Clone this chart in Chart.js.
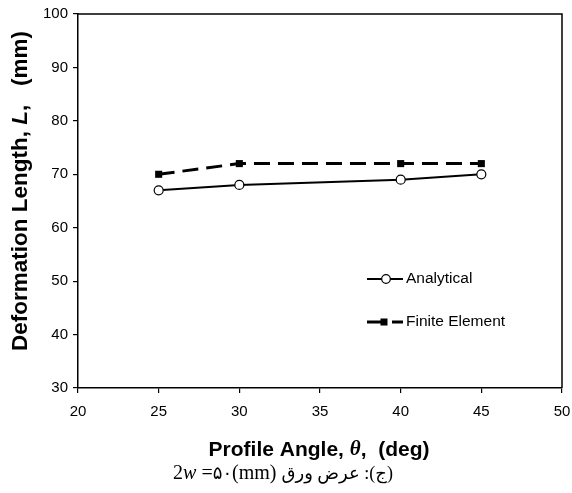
<!DOCTYPE html>
<html>
<head>
<meta charset="utf-8">
<script src="https://cdn.jsdelivr.net/npm/chart.js@4"></script>
<style>
  html, body { margin: 0; padding: 0; background: #fff; }
  #wrap { width: 572px; height: 493px; position: relative; }
</style>
</head>
<body>
<div id="wrap"><canvas id="chart"></canvas></div>
<script>
// Data
const angles = [25, 30, 40, 45];
const analytical = [67, 68, 69, 70];
const finiteElement = [70, 72, 72, 72];
const xTicks = [20, 25, 30, 35, 40, 45, 50];
const yTicks = [30, 40, 50, 60, 70, 80, 90, 100];

const sansFont = "'Liberation Sans', Arial, sans-serif";
const serifFont = "'Liberation Serif', 'Times New Roman', 'DejaVu Sans', serif";

// draw a run of text pieces with different fonts, centred on cx
function drawPieces(ctx, pieces, cx, cy) {
  let total = 0;
  pieces.forEach((p) => {
    ctx.font = p.font;
    total += ctx.measureText(p.text).width;
  });
  let x = cx - total / 2;
  ctx.textBaseline = "middle";
  pieces.forEach((p) => {
    ctx.font = p.font;
    const w = ctx.measureText(p.text).width;
    if (p.rtl) {
      ctx.direction = "rtl";
      ctx.textAlign = "right";
      ctx.fillText(p.text, x + w, cy);
      ctx.direction = "ltr";
    } else {
      ctx.textAlign = "left";
      ctx.fillText(p.text, x, cy);
    }
    x += w;
  });
}

/*  -----------------------------------------------------------------------------------------------
  Plugin: frame, titles, legend and caption
--------------------------------------------------------------------------------------------------- */
const decorations = {
  id: "decorations",
  afterDraw(chart) {
    const ctx = chart.ctx;
    const area = chart.chartArea;
    ctx.save();
    ctx.fillStyle = "#000";

    // top and right border of the plot box
    ctx.strokeStyle = "#000";
    ctx.lineWidth = 1.5;
    ctx.beginPath();
    ctx.moveTo(area.left, area.top);
    ctx.lineTo(area.right, area.top);
    ctx.lineTo(area.right, area.bottom);
    ctx.stroke();

    // y axis title (rotated)
    ctx.save();
    ctx.translate(21, 191);
    ctx.rotate(-Math.PI / 2);
    drawPieces(ctx, [
      { text: "Deformation Length, ", font: "bold 22.5px " + sansFont },
      { text: "L", font: "italic bold 22.5px " + sansFont },
      { text: ",   (mm)", font: "bold 22.5px " + sansFont },
    ], 0, 0);
    ctx.restore();

    // x axis title
    drawPieces(ctx, [
      { text: "Profile Angle, ", font: "bold 21px " + sansFont },
      { text: "\u03B8", font: "italic bold 21px " + serifFont },
      { text: ",  (deg)", font: "bold 21px " + sansFont },
    ], 319, 450);

    // caption under the chart
    drawPieces(ctx, [
      { text: "2", font: "20px " + serifFont },
      { text: "w", font: "italic 20px " + serifFont },
      { text: " =", font: "20px " + serifFont },
      { text: "\u06F5\u06F0", font: "18px " + serifFont },
      { text: "(mm) ", font: "20px " + serifFont },
      { text: "(ج): عرض ورق", font: "18px " + serifFont, rtl: true },
    ], 283, 474);

    // legend
    const items = [
      { ds: chart.data.datasets[0], y: 279, dash: [] },
      { ds: chart.data.datasets[1], y: 322, dash: [18, 7] },
    ];
    items.forEach((it) => {
      const ds = it.ds;
      ctx.strokeStyle = "#000";
      ctx.lineWidth = ds.borderWidth;
      ctx.setLineDash(it.dash);
      ctx.beginPath();
      ctx.moveTo(367, it.y);
      ctx.lineTo(403, it.y);
      ctx.stroke();
      ctx.setLineDash([]);
      ctx.lineWidth = 1.2;
      if (ds.pointStyle === "rect") {
        ctx.fillStyle = "#000";
        ctx.fillRect(384 - 3.5, it.y - 3.5, 7, 7);
      } else {
        ctx.fillStyle = "#fff";
        ctx.beginPath();
        ctx.arc(386, it.y, 4.3, 0, Math.PI * 2);
        ctx.fill();
        ctx.stroke();
      }
      ctx.fillStyle = "#000";
      ctx.font = "15.5px " + sansFont;
      ctx.textAlign = "left";
      ctx.textBaseline = "middle";
      ctx.fillText(ds.label, 406, it.y);
    });

    ctx.restore();
  },
};

const ctx = document.getElementById("chart").getContext("2d");
new Chart(ctx, {
  type: "line",
  data: {
    datasets: [
      {
        label: "Analytical",
        data: angles.map((a, i) => ({ x: a, y: analytical[i] })),
        borderColor: "#000",
        borderWidth: 2,
        pointStyle: "circle",
        pointRadius: 4.5,
        pointBackgroundColor: "#fff",
        pointBorderColor: "#000",
        pointBorderWidth: 1.2,
        tension: 0,
      },
      {
        label: "Finite Element",
        data: angles.map((a, i) => ({ x: a, y: finiteElement[i] })),
        borderColor: "#000",
        borderWidth: 3,
        borderDash: [16, 8],
        pointStyle: "rect",
        pointRadius: 5,
        pointBackgroundColor: "#000",
        pointBorderColor: "#000",
        pointBorderWidth: 0,
        tension: 0,
      },
    ],
  },
  options: {
    responsive: true,
    maintainAspectRatio: false,
    animation: false,
    layout: { padding: { top: 14, right: 10, left: 0, bottom: 0 } },
    plugins: {
      legend: { display: false },
      tooltip: { enabled: false },
    },
    scales: {
      x: {
        type: "linear",
        min: xTicks[0],
        max: xTicks[xTicks.length - 1],
        afterBuildTicks: (scale) => {
          scale.ticks = xTicks.map((v) => ({ value: v }));
        },
        afterFit: (scale) => {
          scale.height = 105;
          scale.paddingLeft = 0;
          scale.paddingRight = 0;
        },
        grid: {
          drawOnChartArea: false,
          drawTicks: true,
          tickLength: 5,
          color: "#000",
          lineWidth: 1.2,
        },
        border: { display: true, color: "#000", width: 1.5 },
        ticks: {
          color: "#000",
          padding: 10,
          maxRotation: 0,
          font: { family: sansFont, size: 15 },
        },
      },
      y: {
        type: "linear",
        min: yTicks[0],
        max: yTicks[yTicks.length - 1],
        afterBuildTicks: (scale) => {
          scale.ticks = yTicks.map((v) => ({ value: v }));
        },
        afterFit: (scale) => {
          scale.width = 78;
          scale.paddingTop = 0;
          scale.paddingBottom = 0;
        },
        grid: {
          drawOnChartArea: false,
          drawTicks: true,
          tickLength: 5,
          color: "#000",
          lineWidth: 1.2,
        },
        border: { display: true, color: "#000", width: 1.5 },
        ticks: {
          color: "#000",
          padding: 5,
          font: { family: sansFont, size: 15 },
        },
      },
    },
  },
  plugins: [decorations],
});
</script>
</body>
</html>
